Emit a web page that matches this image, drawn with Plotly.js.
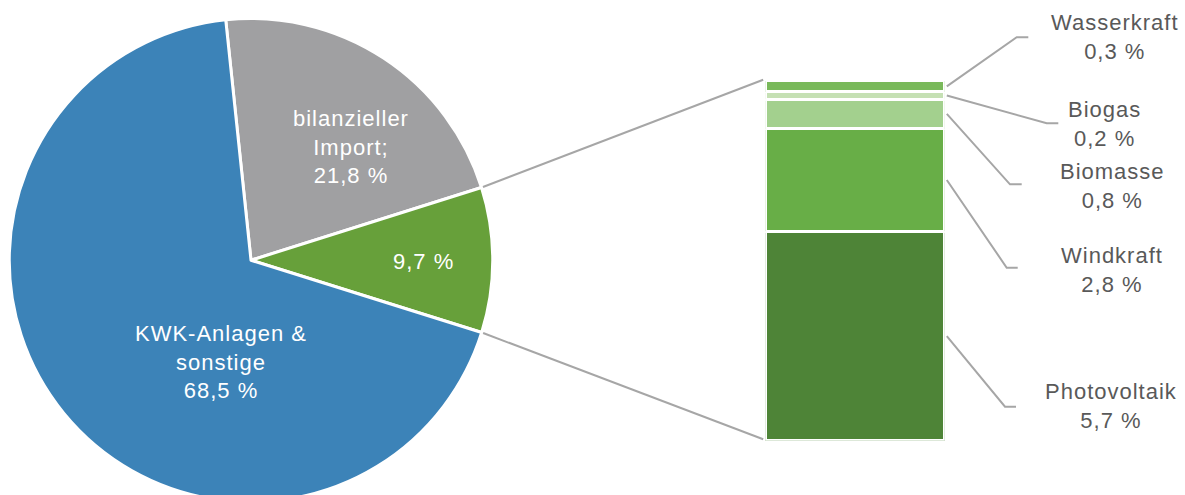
<!DOCTYPE html>
<html>
<head>
<meta charset="utf-8">
<script src="https://cdn.plot.ly/plotly-3.0.1.min.js"></script>
<style>
  html, body { margin: 0; padding: 0; overflow: hidden; background: #ffffff; }
  #chart { width: 1185px; height: 502px; }
  text.annotation-text { letter-spacing: 1px; }
</style>
</head>
<body>
<div id="chart"></div>
<script>
// ---------- data ----------
const pieLabels = ['bilanzieller Import;', 'Erneuerbare Energien', 'KWK-Anlagen & sonstige'];
const pieTextLines = ['bilanzieller<br>Import;', '', 'KWK-Anlagen &<br>sonstige'];
const pieValues = [21.8, 9.7, 68.5];
const pieColors = ['#a0a0a2', '#67a03a', '#3c83b8'];

// stacked bar, bottom to top
const barLabels = ['Photovoltaik', 'Windkraft', 'Biomasse', 'Biogas', 'Wasserkraft'];
const barValues = [5.7, 2.8, 0.8, 0.2, 0.3];
const barColors = ['#4e8437', '#68ae47', '#a3d08e', '#c5e0b4', '#79b95a'];

// ---------- layout geometry (pixels) ----------
const W = 1185, H = 502;
const px = x => x / W;
const py = y => 1 - y / H;

const pieCX = 251, pieTop = 18.5;
const pieR = (H - pieTop) / 2;          // geometric radius
const pieCY = pieTop + pieR;
const pieRotation = -6;

const barLeft = 765.2, barRight = 944.8, barTop = 80.8, barBottom = 440.8;

const fmt = v => v.toFixed(1).replace('.', ',') + ' %';
const pieSum = pieValues.reduce((a, b) => a + b, 0);
const barSum = barValues.reduce((a, b) => a + b, 0);

// ---------- traces ----------
const traces = [];
traces.push({
  type: 'pie',
  labels: pieLabels,
  values: pieValues,
  sort: false,
  direction: 'clockwise',
  rotation: pieRotation,
  marker: { colors: pieColors, line: { color: '#ffffff', width: 3 } },
  textinfo: 'none',
  textposition: 'none',
  hoverinfo: 'label+value',
  domain: { x: [px(pieCX - pieR), px(pieCX + pieR)], y: [0, py(pieTop)] },
  showlegend: false
});

barLabels.forEach((lab, i) => {
  traces.push({
    type: 'bar',
    name: lab,
    x: [0],
    y: [barValues[i]],
    width: [1],
    marker: { color: barColors[i], line: { color: '#ffffff', width: 3 } },
    xaxis: 'x', yaxis: 'y',
    hoverinfo: 'name+y',
    showlegend: false
  });
});

// ---------- annotations & shapes ----------
const annotations = [];
const shapes = [];
const lineStyle = { color: '#a6a6a6', width: 2 };

// pie labels
const pieLabelPos = [[350.5, 147.3], [423.3, 261.3], [221, 361.7]];
pieValues.forEach((v, i) => {
  const t = (pieTextLines[i] ? pieTextLines[i] + '<br>' : '') + fmt(v);
  annotations.push({
    xref: 'paper', yref: 'paper',
    x: px(pieLabelPos[i][0]), y: py(pieLabelPos[i][1]),
    xanchor: 'center', yanchor: 'middle', align: 'center',
    showarrow: false, text: t,
    font: { family: 'Liberation Sans, Arial, sans-serif', size: 22, color: '#ffffff' }
  });
});

// connector lines from pie to bar
const pt = (deg, r) => {
  const a = deg * Math.PI / 180;
  return [pieCX + r * Math.sin(a), pieCY - r * Math.cos(a)];
};
const th1 = pieRotation + 360 * pieValues[0] / pieSum;
const th2 = th1 + 360 * pieValues[1] / pieSum;
const p1 = pt(th1, pieR + 1.5), p2 = pt(th2, pieR + 1.5);
shapes.push({ type: 'line', xref: 'paper', yref: 'paper',
  x0: px(p1[0]), y0: py(p1[1]), x1: px(barLeft - 2), y1: py(barTop - 1), line: lineStyle });
shapes.push({ type: 'line', xref: 'paper', yref: 'paper',
  x0: px(p2[0]), y0: py(p2[1]), x1: px(barLeft - 2), y1: py(barBottom - 1.5), line: lineStyle });

// bar labels with leader lines
const labelCX = [1111, 1111.5, 1112.5, 1104.3, 1115];
const labelCY = [406.3, 269.8, 186, 123.8, 37.2];
const elbowX  = [1005, 1006.7, 1010, 1046.7, 1016.7];
const elbowY  = [406.7, 267.7, 184.3, 123.3, 37.3];
const endX    = [1016, 1017.7, 1021.7, 1058.3, 1028.3];

const yPix = v => barBottom - v / barSum * (barBottom - barTop);
let cum = 0;
barValues.forEach((v, i) => {
  const mid = yPix(cum + v / 2);
  cum += v;
  const x0 = barRight + 2;
  shapes.push({
    type: 'path', xref: 'paper', yref: 'paper',
    path: `M ${px(x0)},${py(mid)} L ${px(elbowX[i])},${py(elbowY[i])} L ${px(endX[i])},${py(elbowY[i])}`,
    line: lineStyle
  });
  annotations.push({
    xref: 'paper', yref: 'paper',
    x: px(labelCX[i]), y: py(labelCY[i]),
    xanchor: 'center', yanchor: 'middle', align: 'center',
    showarrow: false, text: barLabels[i] + '<br>' + fmt(v),
    font: { family: 'Liberation Sans, Arial, sans-serif', size: 22, color: '#595959' }
  });
});

const layout = {
  width: W, height: H,
  margin: { l: 0, r: 0, t: 0, b: 0, pad: 0 },
  paper_bgcolor: '#ffffff', plot_bgcolor: 'rgba(0,0,0,0)',
  showlegend: false,
  barmode: 'stack',
  xaxis: { domain: [px(barLeft), px(barRight)], range: [-0.5, 0.5], visible: false, fixedrange: true },
  yaxis: { domain: [py(barBottom), py(barTop)], range: [0, barSum], visible: false, fixedrange: true },
  annotations: annotations,
  shapes: shapes
};

Plotly.newPlot('chart', traces, layout, { displayModeBar: false, staticPlot: true });
</script>
</body>
</html>
